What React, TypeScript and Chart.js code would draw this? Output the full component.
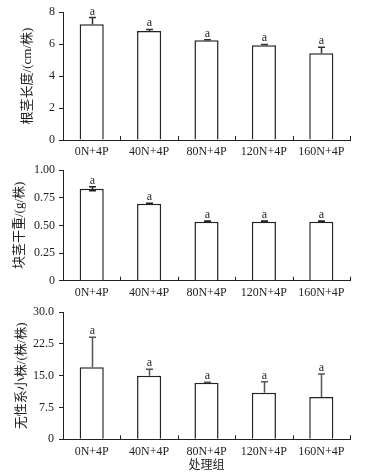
import React, { useEffect, useRef } from "react";
import { Chart, registerables } from "chart.js";

Chart.register(...registerables);

const categories = ["0N+4P", "40N+4P", "80N+4P", "120N+4P", "160N+4P"];

const rhizomeLength = [7.23, 6.81, 6.23, 5.92, 5.42];
const rhizomeErr = [0.42, 0.1, 0.03, 0.05, 0.37];
const rhizomeLetters = ["a", "a", "a", "a", "a"];
const rhizomeTicks = ["0", "2", "4", "6", "8"];

const tuberWeight = [0.83, 0.696, 0.533, 0.533, 0.533];
const tuberErr = [0.018, 0.003, 0.006, 0.006, 0.006];
const tuberLetters = ["a", "a", "a", "a", "a"];
const tuberTicks = ["0", "0.25", "0.50", "0.75", "1.00"];

const plantlets = [17.0, 15.0, 13.36, 11.0, 10.0];
const plantletErr = [7.1, 1.55, 0.1, 2.6, 5.4];
const plantletLetters = ["a", "a", "a", "a", "a"];
const plantletTicks = ["0", "7.5", "15.0", "22.5", "30.0"];

const FONT = "'Liberation Serif', 'Noto Sans CJK SC', serif";
const INK = "#222";

type PanelProps = {
  top: number;
  height: number;
  padTop: number;
  xAxisHeight: number;
  values: number[];
  errors: number[];
  letters: string[];
  ticks: string[];
  max: number;
  step: number;
  yTitle: string;
  yTitlePad: number;
  yTickPad: number;
  xTitle?: string;
  bothSides: boolean;
  errColor: string;
};

function Panel(p: PanelProps) {
  const ref = useRef<HTMLCanvasElement | null>(null);
  useEffect(() => {
    if (!ref.current) return;
    const errPlugin = {
      id: "errbars",
      afterDatasetsDraw(chart: any) {
        const ctx = chart.ctx;
        const meta = chart.getDatasetMeta(0);
        const ys = chart.scales.y;
        const xs = chart.scales.x;
        const area = chart.chartArea;
        ctx.save();
        ctx.strokeStyle = INK;
        ctx.lineWidth = 1;
        for (let i = 0; i < p.values.length; i++) {
          const x = Math.round(xs.getPixelForValue(i + 0.5)) + 0.5;
          ctx.beginPath();
          ctx.moveTo(x, area.bottom);
          ctx.lineTo(x, area.bottom - 4);
          ctx.stroke();
        }
        meta.data.forEach((el: any, i: number) => {
          const v = p.values[i];
          const e = p.errors[i];
          const x = Math.round(el.x) + 0.5;
          const yT = ys.getPixelForValue(v + e);
          const yB = p.bothSides ? ys.getPixelForValue(v - e) : ys.getPixelForValue(v);
          ctx.strokeStyle = p.errColor;
          ctx.lineWidth = 1.5;
          ctx.beginPath();
          ctx.moveTo(x, yT);
          ctx.lineTo(x, yB);
          ctx.moveTo(x - 3.5, yT);
          ctx.lineTo(x + 3.5, yT);
          if (p.bothSides) {
            ctx.moveTo(x - 3.5, yB);
            ctx.lineTo(x + 3.5, yB);
          }
          ctx.stroke();
          ctx.fillStyle = INK;
          ctx.font = `12px ${FONT}`;
          ctx.textAlign = "center";
          ctx.textBaseline = "alphabetic";
          ctx.fillText(p.letters[i], x, yT - 3);
        });
        ctx.restore();
      },
    };
    const chart = new Chart(ref.current, {
      type: "bar",
      data: {
        labels: categories,
        datasets: [
          {
            data: p.values,
            backgroundColor: "#ffffff",
            borderColor: INK,
            borderWidth: 1.5,
            categoryPercentage: 1,
            barPercentage: 0.42,
          },
        ],
      },
      options: {
        responsive: false,
        animation: false,
        layout: { padding: { left: 0, right: 31, top: p.padTop, bottom: 0 } },
        plugins: { legend: { display: false }, tooltip: { enabled: false } },
        scales: {
          x: {
            offset: true,
            grid: { display: false, drawTicks: false },
            border: { display: true, color: INK, width: 1 },
            ticks: { color: INK, font: { family: FONT, size: 12 }, padding: 5, maxRotation: 0, autoSkip: false },
            title: p.xTitle
              ? { display: true, text: p.xTitle, color: INK, font: { family: FONT, size: 12 }, padding: { top: 0, bottom: 2 } }
              : { display: false },
            afterFit: (s: any) => {
              s.height = p.xAxisHeight;
            },
          },
          y: {
            min: 0,
            max: p.max,
            grid: { drawOnChartArea: false, drawTicks: true, tickLength: 4, color: INK },
            border: { display: true, color: INK, width: 1 },
            ticks: {
              stepSize: p.step,
              color: INK,
              font: { family: FONT, size: 12 },
              padding: p.yTickPad,
              callback: (_v: any, i: number) => p.ticks[i],
            },
            title: {
              display: true,
              text: p.yTitle,
              color: INK,
              font: { family: FONT, size: 13 },
              padding: { top: p.yTitlePad, bottom: 0 },
            },
            afterFit: (s: any) => {
              s.width = 63;
            },
          },
        },
      },
      plugins: [errPlugin],
    } as any);
    return () => chart.destroy();
  }, []);
  return (
    <div style={{ position: "absolute", left: 0, top: p.top, width: 381, height: p.height }}>
      <canvas ref={ref} width={381} height={p.height} style={{ display: "block" }} />
    </div>
  );
}

export default function App() {
  return (
    <div style={{ position: "absolute", left: 0, top: 0, width: 381, height: 475, background: "#fff" }}>
      <Panel
        top={0}
        height={158}
        padTop={12}
        xAxisHeight={18}
        values={rhizomeLength}
        errors={rhizomeErr}
        letters={rhizomeLetters}
        ticks={rhizomeTicks}
        max={8}
        step={2}
        yTitle="根茎长度/(cm/株)"
        yTitlePad={20}
        yTickPad={4}
        bothSides={false}
        errColor="#333"
      />
      <Panel
        top={158}
        height={142}
        padTop={12}
        xAxisHeight={19.3}
        values={tuberWeight}
        errors={tuberErr}
        letters={tuberLetters}
        ticks={tuberTicks}
        max={1}
        step={0.25}
        yTitle="块茎干重/(g/株)"
        yTitlePad={12}
        yTickPad={4}
        bothSides={true}
        errColor="#222"
      />
      <Panel
        top={300}
        height={175}
        padTop={10.7}
        xAxisHeight={35.7}
        values={plantlets}
        errors={plantletErr}
        letters={plantletLetters}
        ticks={plantletTicks}
        max={30}
        step={7.5}
        yTitle="无性系小株/(株/株)"
        yTitlePad={14}
        yTickPad={5}
        xTitle="处理组"
        bothSides={false}
        errColor="#555"
      />
    </div>
  );
}
